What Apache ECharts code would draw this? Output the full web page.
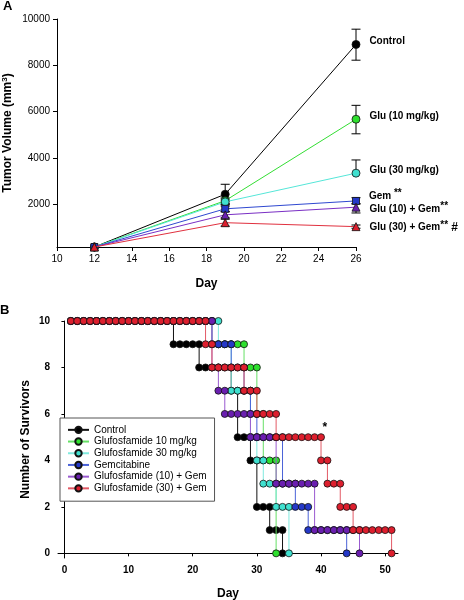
<!DOCTYPE html>
<html><head><meta charset="utf-8">
<script src="https://cdn.jsdelivr.net/npm/echarts@6/dist/echarts.min.js"></script>
<style>html,body{margin:0;padding:0;background:#fff}#c{width:464px;height:600px}</style>
</head><body><div id="c"></div>
<script>
// ---------- Panel A: tumor volume ----------
const daysA = [12, 19, 26];
const controlA   = [150, 2430, 8900];
const glu10A     = [150, 2150, 5670];
const glu30A     = [150, 2100, 3340];
const gemA       = [150, 1800, 2140];
const glu10GemA  = [150, 1540, 1870];
const glu30GemA  = [150, 1200, 1030];
// error bars (up / down)
const controlErrUp = [0, 430, 660],  controlErrDn = [0, 430, 680];
const glu10ErrUp   = [0, 120, 600],  glu10ErrDn   = [0, 120, 630];
const glu30ErrUp   = [0, 120, 570],  glu30ErrDn   = [0, 120, 0];
const gemErrUp     = [0, 120, 140],  gemErrDn     = [0, 120, 130];
const glu10GemErrUp= [0, 130, 150],  glu10GemErrDn= [0, 130, 250];
const glu30GemErrUp= [0, 150, 70],   glu30GemErrDn= [0, 150, 70];
const yTicksA = [2000, 4000, 6000, 8000, 10000];
const labelsA = ['Control', 'Glu (10 mg/kg)', 'Glu (30 mg/kg)', 'Gem **', 'Glu (10) + Gem**', 'Glu (30) + Gem** #'];

// ---------- Panel B: survivors per day (day 1 .. last day) ----------
const startCount = 10;
const controlB = [10,10,10,10,10,10,10,10,10,10,10,10,10,10,10,10, 9,9,9,9, 8,8,8,8,8, 7, 5,5, 4, 2,2, 1,1, 0];
const glu10B   = [10,10,10,10,10,10,10,10,10,10,10,10,10,10,10,10,10,10,10,10,10,10, 9,9,9,9,9, 8,8, 6, 4,4, 0];
const glu30B   = [10,10,10,10,10,10,10,10,10,10,10,10,10,10,10,10,10,10,10,10,10,10,10, 9,9, 7,7,7, 5, 4, 3,3, 2,2, 0];
const gemB     = [10,10,10,10,10,10,10,10,10,10,10,10,10,10,10,10,10,10,10,10,10,10, 9,9,9, 8,8, 7, 6, 5,5,5,5, 3,3, 2,2, 1,1,1,1,1,1, 0];
const glu10GemB= [10,10,10,10,10,10,10,10,10,10,10,10,10,10,10,10,10,10,10,10,10,10, 8, 7, 6,6,6,6, 5,5,5,5, 3,3,3,3,3,3, 1,1,1,1,1,1,1, 0];
const glu30GemB= [10,10,10,10,10,10,10,10,10,10,10,10,10,10,10,10,10,10,10,10,10, 9, 8,8,8,8,8, 7,7, 6,6,6, 5,5,5,5,5,5,5, 4, 3,3, 2,2, 1,1,1,1,1,1, 0];
const namesB = ['Control', 'Glufosfamide 10 mg/kg', 'Glufosfamide 30 mg/kg', 'Gemcitabine', 'Glufosfamide (10) + Gem', 'Glufosfamide (30) + Gem'];
const xTicksB = [0, 10, 20, 30, 40, 50];
const yTicksB = [0, 2, 4, 6, 8, 10];
const starPoint = [40.6, 5.4];

const FONT = 'Liberation Sans, Arial, sans-serif';
const markerColors = ['#000000', '#2ee02e', '#3fe0cf', '#2438c8', '#6a1fb0', '#dd1f2e'];
const lineColorsA  = ['#000000', '#33dd33', '#55e6d8', '#2f48d0', '#7a2fc4', '#e0303f'];
const lineColorsB  = ['#111111', '#66e066', '#80eadf', '#4a62d8', '#9a5ad0', '#e35a66'];
const symbolsA = ['circle', 'circle', 'circle', 'rect', 'triangle', 'triangle'];

const seriesA = [controlA, glu10A, glu30A, gemA, glu10GemA, glu30GemA];
const errUpA = [controlErrUp, glu10ErrUp, glu30ErrUp, gemErrUp, glu10GemErrUp, glu30GemErrUp];
const errDnA = [controlErrDn, glu10ErrDn, glu30ErrDn, gemErrDn, glu10GemErrDn, glu30GemErrDn];
const labelOffsets = [[0, -3], [0, -3], [0, -3], [0, -5], [0, 2], [0, 1]];
const seriesB = [controlB, glu10B, glu30B, gemB, glu10GemB, glu30GemB];

function stepPoints(daily) {
  const pts = []; let prev = startCount;
  daily.forEach((v, i) => {
    const d = i + 1;
    if (v !== prev) pts.push([d, prev]);
    pts.push([d, v]);
    prev = v;
  });
  return pts;
}

const series = [];
const errData = [];
seriesA.forEach((vals, s) => vals.forEach((v, i) => {
  if (errUpA[s][i] > 0 || errDnA[s][i] > 0) errData.push([daysA[i], v, v - errDnA[s][i], v + errUpA[s][i]]);
}));
series.push({
  type: 'custom', xAxisIndex: 0, yAxisIndex: 0, silent: true, z: 1,
  data: errData,
  renderItem: function (params, api) {
    const x = api.value(0), lo = api.value(2), hi = api.value(3), m = api.value(1);
    const pHi = api.coord([x, hi]), pLo = api.coord([x, lo]);
    const w = 4.5; const ch = [];
    const st = { stroke: '#000', lineWidth: 1 };
    ch.push({ type: 'line', shape: { x1: pHi[0], y1: pHi[1], x2: pLo[0], y2: pLo[1] }, style: st });
    if (hi > m) ch.push({ type: 'line', shape: { x1: pHi[0] - w, y1: pHi[1], x2: pHi[0] + w, y2: pHi[1] }, style: st });
    if (lo < m) ch.push({ type: 'line', shape: { x1: pLo[0] - w, y1: pLo[1], x2: pLo[0] + w, y2: pLo[1] }, style: st });
    return { type: 'group', children: ch };
  },
  encode: { x: 0, y: [1, 2, 3] }
});
seriesA.forEach((vals, s) => {
  series.push({
    type: 'line', xAxisIndex: 0, yAxisIndex: 0, z: 2 + s,
    data: vals.map((v, i) => {
      const item = { value: [daysA[i], v] };
      if (i === vals.length - 1) {
        item.label = {
          show: true, position: 'right', distance: 9, offset: labelOffsets[s],
          formatter: () => {
            const t = labelsA[s];
            const k = t.indexOf('**');
            if (k < 0) return '{b|' + t + '}';
            return '{b|' + t.slice(0, k) + '}{s|**}' + (t.slice(k + 2) ? '{h|' + t.slice(k + 2) + '}' : '');
          },
          rich: {
            b: { fontFamily: FONT, fontWeight: 'bold', fontSize: 10, color: '#000', lineHeight: 13 },
            s: { fontFamily: FONT, fontWeight: 'bold', fontSize: 10, color: '#000', padding: [0, 0, 5, 0], lineHeight: 13 },
            h: { fontFamily: FONT, fontWeight: 'bold', fontSize: 12, color: '#000', lineHeight: 13 }
          }
        };
      }
      return item;
    }),
    symbol: symbolsA[s], symbolSize: symbolsA[s] === 'rect' ? 7 : 8,
    lineStyle: { color: lineColorsA[s], width: 1 },
    itemStyle: { color: markerColors[s], borderColor: '#111', borderWidth: 0.8 },
    animation: false
  });
});
seriesB.forEach((daily, s) => {
  const ser = {
    name: namesB[s], type: 'line', xAxisIndex: 1, yAxisIndex: 1, z: 2 + s,
    data: stepPoints(daily), showAllSymbol: true,
    symbol: 'circle', symbolSize: 7,
    lineStyle: { color: lineColorsB[s], width: 1 },
    itemStyle: { color: markerColors[s], borderColor: '#111', borderWidth: 0.8 },
    animation: false
  };
  if (s === seriesB.length - 1) {
    ser.markPoint = {
      symbol: 'circle', symbolSize: 1, itemStyle: { color: 'rgba(0,0,0,0)' },
      label: { show: true, formatter: '*', color: '#000', fontFamily: FONT, fontWeight: 'bold', fontSize: 12, position: 'inside' },
      data: [{ coord: starPoint }]
    };
  }
  series.push(ser);
});

const axisCommon = {
  axisLine: { show: true, lineStyle: { color: '#000', width: 1 } },
  axisTick: { show: true, length: 4, lineStyle: { color: '#000' } },
  splitLine: { show: false }
};

const chart = echarts.init(document.getElementById('c'), null, { renderer: 'canvas' });
chart.setOption({
  animation: false,
  backgroundColor: '#fff',
  textStyle: { fontFamily: FONT },
  grid: [
    { left: 57, right: 108, top: 19, bottom: 353, containLabel: false, outerBoundsMode: 'none' },
    { left: 58, right: 66, top: 321, bottom: 42, containLabel: false, outerBoundsMode: 'none' }
  ],
  xAxis: [
    Object.assign({}, axisCommon, {
      gridIndex: 0, type: 'value', min: 10, max: 26, interval: 2,
      name: 'Day', nameLocation: 'middle', nameGap: 31,
      nameTextStyle: { fontFamily: FONT, fontWeight: 'bold', fontSize: 12, color: '#000' },
      axisLabel: { fontFamily: FONT, fontSize: 10, color: '#000', margin: 7 }
    }),
    Object.assign({}, axisCommon, {
      gridIndex: 1, type: 'value', min: -1, max: 52,
      axisTick: { show: true, length: 3, lineStyle: { color: '#000' }, customValues: xTicksB },
      name: 'Day', nameLocation: 'middle', nameGap: 30,
      nameTextStyle: { fontFamily: FONT, fontWeight: 'bold', fontSize: 12, color: '#000' },
      axisLabel: { fontFamily: FONT, fontSize: 10, fontWeight: 'bold', color: '#000', margin: 7, customValues: xTicksB }
    })
  ],
  yAxis: [
    Object.assign({}, axisCommon, {
      gridIndex: 0, type: 'value', min: 150, max: 10000,
      axisTick: { show: true, length: 4, lineStyle: { color: '#000' }, customValues: yTicksA },
      name: 'Tumor Volume (mm{sup|3})', nameLocation: 'middle', nameGap: 42, nameRotate: 90, nameMoveOverlap: false,
      nameTextStyle: { fontFamily: FONT, fontWeight: 'bold', fontSize: 12, color: '#000',
        rich: { sup: { fontFamily: FONT, fontWeight: 'bold', fontSize: 8, color: '#000', padding: [0, 0, 6, 0] } } },
      axisLabel: { fontFamily: FONT, fontSize: 10, color: '#000', margin: 7, customValues: yTicksA,
        formatter: v => String(v) }
    }),
    Object.assign({}, axisCommon, {
      gridIndex: 1, type: 'value', min: -0.2, max: 10,
      axisTick: { show: true, length: 3, lineStyle: { color: '#000' }, customValues: yTicksB },
      name: 'Number of Survivors', nameLocation: 'middle', nameGap: 26, nameRotate: 90, nameMoveOverlap: false,
      nameTextStyle: { fontFamily: FONT, fontWeight: 'bold', fontSize: 12, color: '#000' },
      axisLabel: { fontFamily: FONT, fontSize: 10, fontWeight: 'bold', color: '#000', margin: 8, customValues: yTicksB }
    })
  ],
  legend: {
    data: namesB, orient: 'vertical', left: 60, top: 418,
    padding: [6, 8, 7, 7], itemGap: 0, itemWidth: 21, itemHeight: 8,
    borderColor: '#555', borderWidth: 1, backgroundColor: '#fff',
    textStyle: { fontFamily: FONT, fontSize: 10, color: '#000', lineHeight: 11.7, height: 11.7 },
    selectedMode: false
  },
  graphic: [
    { type: 'text', left: 3, top: 0, style: { text: 'A', font: 'bold 13px ' + FONT, fill: '#000' } },
    { type: 'text', left: 0, top: 304, style: { text: 'B', font: 'bold 13px ' + FONT, fill: '#000' } }
  ],
  series: series
});
</script></body></html>
